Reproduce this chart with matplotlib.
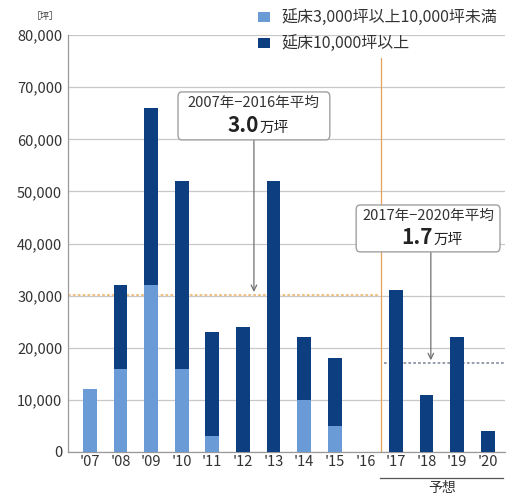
import numpy as np
import matplotlib.pyplot as plt
from matplotlib.patches import FancyBboxPatch

plt.rcParams['font.family'] = ['Noto Sans CJK JP', 'DejaVu Sans']

years = ["'07", "'08", "'09", "'10", "'11", "'12", "'13", "'14", "'15", "'16",
         "'17", "'18", "'19", "'20"]
# floor area supplied, tsubo
mid_size = [12000, 16000, 32000, 16000, 3000, 0, 0, 10000, 5000, 0, 0, 0, 0, 0]
large_size = [0, 16000, 34000, 36000, 20000, 24000, 52000, 12000, 13000, 0,
              31000, 11000, 22000, 4000]
legend_labels = ['延床3,000坪以上10,000坪未満', '延床10,000坪以上']
n_actual = 10  # '07-'16 actual, '17-'20 forecast

light = '#6b9bd6'
dark = '#0d3f80'
gridc = '#c8c8c8'
textc = '#333333'

totals = np.array(mid_size) + np.array(large_size)
avg_past = totals[:n_actual].mean()
avg_future = totals[n_actual:].mean()

fig = plt.figure(figsize=(5.1, 4.95), dpi=100)
ax = fig.add_axes([0.133, 0.087, 0.857, 0.842])

x = np.arange(len(years))
w = 0.45
ax.bar(x, mid_size, w, color=light, zorder=3)
ax.bar(x, large_size, w, bottom=mid_size, color=dark, zorder=3)

ax.set_xlim(-0.72, len(years) - 0.44)
ax.set_ylim(0, 80000)
ax.set_yticks(np.arange(0, 80001, 10000))
ax.set_yticklabels([f'{v:,}' for v in range(0, 80001, 10000)])
ax.set_xticks(x)
ax.set_xticklabels(years)
ax.tick_params(axis='both', length=0, labelsize=10.5, colors=textc, pad=4)
ax.tick_params(axis='x', pad=2)
ax.grid(axis='y', color=gridc, lw=0.9, zorder=0)
for s in ['top', 'right']:
    ax.spines[s].set_visible(False)
for s in ['left', 'bottom']:
    ax.spines[s].set_color('#999999')
    ax.spines[s].set_linewidth(0.9)

# actual / forecast divider
split = n_actual - 0.5
ax.axvline(split, ymax=0.945, color='#e6a15a', lw=0.9, zorder=2)

# average lines
ax.plot([-0.72, split - 0.1], [avg_past, avg_past], ls=(0, (1.5, 1.2)),
        color='#f0bc78', lw=1.3, zorder=2)
ax.plot([split + 0.1, len(years) - 0.44], [avg_future, avg_future],
        ls=(0, (1.5, 1.2)), color='#8c96a4', lw=1.3, zorder=2)


def avg_box(cx, y0, y1, half_w, period, value, arrow_x, target):
    box = FancyBboxPatch((cx - half_w, y0), 2 * half_w, y1 - y0,
                         boxstyle='round,pad=0,rounding_size=0.12',
                         fc='white', ec='#a0a0a0', lw=1.0, zorder=6,
                         mutation_aspect=8000)
    ax.add_patch(box)
    ax.annotate('', xy=(arrow_x, target + 600), xytext=(arrow_x, y0),
                arrowprops=dict(arrowstyle='->', color='#707070', lw=0.9,
                                shrinkA=0, shrinkB=0), zorder=5)
    ax.text(cx, y1 - 800, period, ha='center', va='top', fontsize=10.5,
            color=textc, zorder=7)
    num = f'{value / 10000:.1f}'
    ax.text(cx + 0.15, y0 + 700, num, ha='right', va='bottom',
            fontsize=15, fontweight='bold', color='#222222', zorder=7)
    ax.text(cx + 0.18, y0 + 1000, '万坪', ha='left', va='bottom', fontsize=10.5,
            color='#222222', zorder=7)


avg_box(5.36, 59900, 69100, 2.48, '2007年−2016年平均', avg_past, 5.36, avg_past)
avg_box(11.05, 38400, 47400, 2.35, '2017年−2020年平均', avg_future, 11.14, avg_future)

# unit label
fig.text(45 / 510, 1 - 17 / 495, '［坪］', fontsize=6.5, color=textc,
         ha='center', va='center')

# legend
for i, (lab, c) in enumerate(zip(legend_labels, [light, dark])):
    yy = 1 - (17 + 26 * i) / 495
    fig.patches.append(plt.Rectangle((258 / 510, yy - 5 / 495), 12 / 510, 10 / 495,
                                     transform=fig.transFigure, fc=c, ec='none'))
    fig.text(281 / 510, yy, lab, fontsize=11.5, color=textc, ha='left', va='center')

# forecast bracket under the x labels
fig.lines.append(plt.Line2D([380 / 510, 503 / 510], [1 - 478 / 495, 1 - 478 / 495],
                            transform=fig.transFigure, color='#555555', lw=0.9))
fig.text(442 / 510, 1 - 488 / 495, '予想', fontsize=10, color=textc,
         ha='center', va='center')

fig.savefig('out.png', dpi=100)
